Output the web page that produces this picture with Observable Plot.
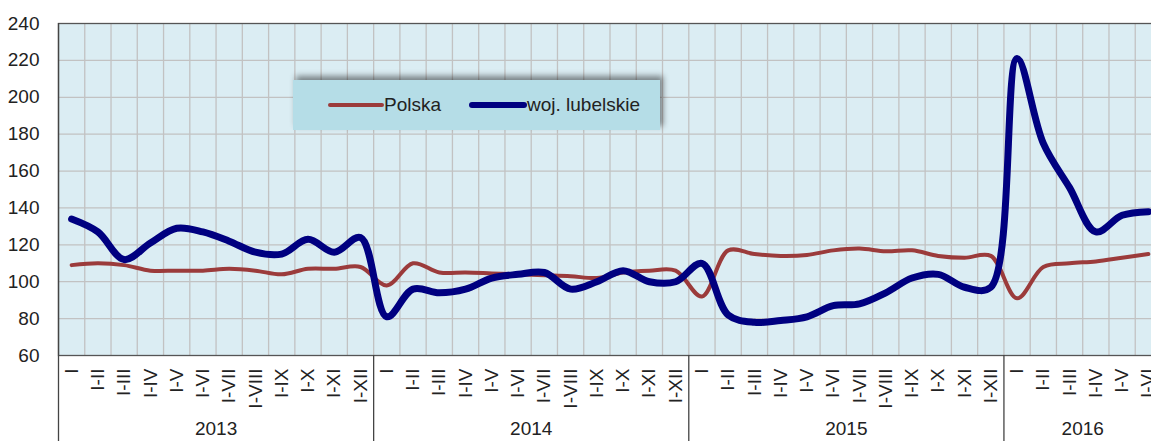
<!DOCTYPE html>
<html>
<head>
<meta charset="utf-8">
<script src="https://cdn.jsdelivr.net/npm/d3@7"></script>
<script src="https://cdn.jsdelivr.net/npm/@observablehq/plot@0.6"></script>
<style>
  html, body { margin: 0; padding: 0; background: #fff; overflow: hidden; }
  #wrap { position: relative; width: 1151px; height: 441px; overflow: hidden; }
  #chart svg { max-width: none !important; }
  #legend {
    position: absolute; left: 293px; top: 80px; width: 367px; height: 50px;
    background: #b5dde7; box-shadow: 3px -4px 6px rgba(0,0,0,0.45);
    font-family: 'Liberation Sans Narrow', 'Liberation Sans', Arial, sans-serif;
    font-size: 19px; color: #222;
  }
  .item { position: absolute; top: 14px; display: flex; align-items: center; }
  .sw { display: inline-block; height: 5px; border-radius: 3px; }
</style>
</head>
<body>
<div id="wrap">
  <div id="chart"></div>
  <div id="legend">
    <div class="item" style="left:35px"><span class="sw" style="width:56px;background:#9b3b3b;height:4px"></span><span>Polska</span></div>
    <div class="item" style="left:176px"><span class="sw" style="width:58px;background:#000080;height:6px"></span><span>woj. lubelskie</span></div>
  </div>
</div>
<script>
const years = ["2013", "2014", "2015", "2016"];
const monthLabels = ["I","I-II","I-III","I-IV","I-V","I-VI","I-VII","I-VIII","I-IX","I-X","I-XI","I-XII"];
const tickLabels = [...monthLabels, ...monthLabels, ...monthLabels, ...monthLabels.slice(0, 6)];
const yearCenters = [5.5, 17.5, 29.5, 38.5];
const yearSeparators = [-0.5, 11.5, 23.5, 35.5];

const polska = [
  109, 110, 109, 106, 106, 106, 107, 106, 104, 107, 107, 108,
  98, 110, 105, 105, 104.5, 104, 103.5, 103, 102, 105, 106, 106,
  92, 117, 115, 114, 114.5, 117, 118, 116.5, 117, 114, 113, 114,
  91, 108, 110, 111, 113, 115
];
const lubelskie = [
  134, 127, 112, 121, 129, 127, 122, 116, 115, 123, 116, 124,
  81, 96, 94, 96, 102, 104, 105, 96, 100, 106, 100, 100,
  110, 82, 78, 79, 81, 87, 88, 94, 102, 104, 97, 97,
  221, 175, 151, 127, 136, 138
];

const data = [
  ...polska.map((v, i) => ({i, v, s: "Polska"})),
  ...lubelskie.map((v, i) => ({i, v, s: "woj. lubelskie"}))
];

const font = "'Liberation Sans Narrow', 'Liberation Sans', Arial, sans-serif";
const vGrid = d3.range(0.5, 41.5, 1);
const hGrid = d3.range(80, 240, 20);

const chart = Plot.plot({
  width: 1161,
  height: 441,
  marginLeft: 58,
  marginRight: 0,
  marginTop: 23,
  marginBottom: 86,
  style: {fontFamily: font, fontSize: "19px", color: "#222", background: "transparent", maxWidth: "none"},
  x: {domain: [-0.5, 41.5], axis: null},
  y: {domain: [60, 240], axis: null},
  marks: [
    Plot.frame({fill: "#dbedf3", stroke: null}),
    Plot.ruleX(vGrid, {stroke: "#c2c2c2", strokeWidth: 1.3}),
    Plot.ruleY(hGrid, {stroke: "#c2c2c2", strokeWidth: 1.3}),
    Plot.frame({stroke: "#555", strokeWidth: 1.3}),
    Plot.ruleX(yearSeparators.slice(1), {stroke: "#444", strokeWidth: 1.3, insetTop: 332, insetBottom: -86}),
    Plot.ruleX([-0.5], {stroke: "#444", strokeWidth: 1.3, insetBottom: -86}),
    Plot.axisY({ticks: d3.range(60, 241, 20), tickSize: 0, tickPadding: 19, label: null, fontSize: 19}),
    Plot.axisX({ticks: d3.range(42), tickFormat: i => tickLabels[i], tickRotate: -90, tickSize: 0, tickPadding: 13, label: null, fontSize: 19}),
    Plot.text(years, {x: (d, k) => yearCenters[k], text: d => d, frameAnchor: "bottom", dy: 79, fontSize: 19}),
    Plot.line(data.filter(d => d.s === "Polska"), {x: "i", y: "v", stroke: "#9b3b3b", strokeWidth: 4, curve: "catmull-rom"}),
    Plot.line(data.filter(d => d.s === "woj. lubelskie"), {x: "i", y: "v", stroke: "#000080", strokeWidth: 7, curve: "catmull-rom"})
  ]
});
document.getElementById("chart").appendChild(chart);
</script>
</body>
</html>
